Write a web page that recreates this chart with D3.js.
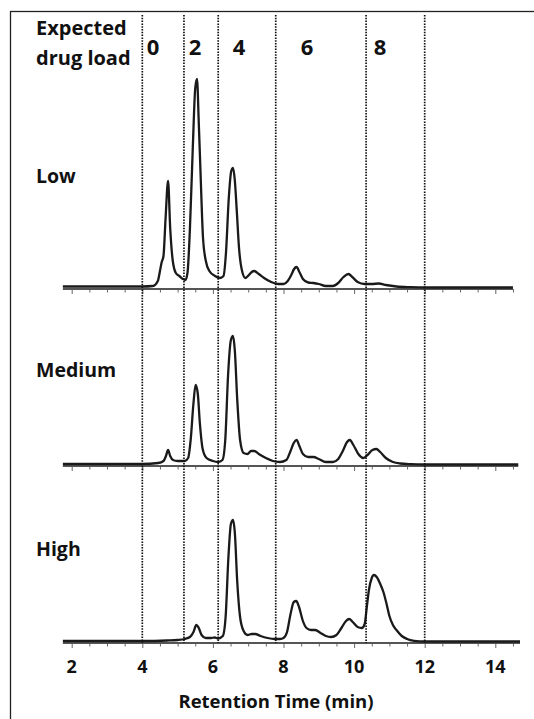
<!DOCTYPE html>
<html><head><meta charset="utf-8">
<script src="https://cdn.jsdelivr.net/npm/d3@7"></script>
<style>body{margin:0;background:#fff} svg{display:block}</style>
</head><body><svg id="c" width="534" height="719"></svg>
<script>
// ---------- data ----------
const panelNames = ["Low", "Medium", "High"];
const drugLoads = ["0", "2", "4", "6", "8"];
const boundaryTimes = [4.0, 5.18, 6.15, 7.78, 10.34, 12.0];
const xTickLabels = [2, 4, 6, 8, 10, 12, 14];

const lowTrace = [[1.75,1.5],[4.0,1.5],[4.3,2],[4.44,7],[4.5,17],[4.55,26],[4.6,32],[4.66,70],[4.73,107],[4.79,60],[4.86,28],[4.95,15],[5.05,12],[5.15,9],[5.22,8],[5.28,15],[5.35,60],[5.43,140],[5.5,200],[5.55,209],[5.6,165],[5.65,115],[5.72,50],[5.8,27],[5.9,17],[6.06,12],[6.2,10],[6.3,12],[6.37,35],[6.45,90],[6.52,117],[6.57,120],[6.62,108],[6.68,75],[6.74,40],[6.82,18],[6.92,10],[7.02,13],[7.1,16],[7.17,17],[7.3,14],[7.45,10],[7.65,6],[7.85,4],[8.0,4],[8.12,7],[8.22,13],[8.3,19],[8.37,21],[8.45,16],[8.55,9],[8.7,5.5],[8.85,5],[9.0,4],[9.2,2],[9.4,2],[9.55,5],[9.7,11],[9.84,14],[9.95,11],[10.1,6],[10.3,4],[10.5,4],[10.7,4.5],[10.9,3],[11.2,1.5],[11.6,0.8],[12.0,0.5],[14.5,0.5]];

const mediumTrace = [[1.75,1],[4.0,1],[4.45,2],[4.6,4],[4.67,9],[4.73,15],[4.79,9],[4.87,5],[5.0,4],[5.2,4],[5.3,7],[5.37,25],[5.45,62],[5.51,80],[5.57,72],[5.63,42],[5.71,16],[5.82,7],[6.0,4],[6.15,3],[6.27,5],[6.35,25],[6.43,90],[6.51,125],[6.57,129],[6.62,115],[6.69,65],[6.77,25],[6.87,12],[6.98,11],[7.08,14],[7.17,14],[7.3,11],[7.5,7],[7.7,4],[7.9,3],[8.08,5],[8.2,14],[8.29,22],[8.37,25],[8.45,19],[8.55,11],[8.7,8],[8.85,8],[9.0,6],[9.2,3],[9.4,3],[9.55,6],[9.68,14],[9.8,23],[9.88,25],[9.98,20],[10.12,11],[10.26,7],[10.38,10],[10.52,15],[10.63,16],[10.74,13],[10.9,7],[11.1,3],[11.3,1.5],[11.6,0.8],[12.0,0.5],[14.65,0.5]];

const highTrace = [[1.75,1],[4.0,1],[4.7,1.5],[5.0,2],[5.2,3],[5.35,5],[5.45,10],[5.53,17],[5.6,14],[5.68,7],[5.8,4],[5.95,4],[6.05,4.5],[6.15,3.5],[6.28,6],[6.36,25],[6.44,85],[6.51,118],[6.57,122],[6.62,110],[6.69,60],[6.77,25],[6.87,11],[6.98,7],[7.1,8],[7.2,8],[7.35,6],[7.55,4],[7.75,3],[7.9,3],[8.0,4],[8.1,10],[8.2,28],[8.29,40],[8.36,41],[8.44,35],[8.54,22],[8.65,14],[8.78,12],[8.9,12],[9.05,9],[9.2,6],[9.35,5],[9.5,7],[9.64,14],[9.77,21],[9.86,23],[9.96,20],[10.1,15],[10.22,14],[10.3,18],[10.36,35],[10.42,52],[10.5,64],[10.56,67],[10.64,65],[10.74,58],[10.83,50],[10.92,38],[11.0,26],[11.1,17],[11.2,12],[11.35,6],[11.5,3],[11.7,1.2],[12.0,0.5],[14.7,0.5]];

const traces = [lowTrace, mediumTrace, highTrace];
const axisEnds = [14.5, 14.65, 14.7];

// ---------- layout ----------
const svg = d3.select("#c");
const x = d3.scaleLinear().domain([2, 14]).range([71.7, 71.7 + 12 * 35.3]);
const baselines = [288, 465, 642];
const font = "'Open Sans', Lato, sans-serif";

// frame
svg.append("rect").attr("x", 10.5).attr("y", 11.5).attr("width", 530).attr("height", 720)
  .attr("fill", "none").attr("stroke", "#222").attr("stroke-width", 1.3);

// panels
panelNames.forEach((name, i) => {
  const base = baselines[i];
  const y = d3.scaleLinear().domain([0, 220]).range([base, base - 220]);
  const g = svg.append("g");
  const tv = d3.range(4, Math.floor(axisEnds[i] * 2) + 1).map(v => v / 2);
  const axis = d3.axisBottom(x).tickValues(tv).tickSize(3).tickFormat("").tickSizeOuter(0);
  const ag = g.append("g").attr("transform", `translate(0,${base + 1})`).call(axis);
  ag.select(".domain").remove();
  ag.selectAll(".tick line").attr("stroke", "#666").attr("stroke-width", 1)
    .attr("y2", d => d % 2 === 0 ? 5 : 3.5);
  g.append("line").attr("x1", x(1.75)).attr("x2", x(axisEnds[i]))
    .attr("y1", base + 1).attr("y2", base + 1).attr("stroke", "#555").attr("stroke-width", 2);
  const line = d3.line().x(d => x(d[0])).y(d => y(d[1])).curve(d3.curveMonotoneX);
  g.append("path").datum(traces[i]).attr("d", line)
    .attr("fill", "none").attr("stroke", "#1a1a1a").attr("stroke-width", 2.3).attr("stroke-linejoin", "round");
  svg.append("text").attr("x", 36).attr("y", [183, 377, 556][i]).text(name)
    .attr("font-family", font).attr("font-weight", "bold").attr("font-size", 19.5).attr("fill", "#111");
});

// bottom tick labels
svg.append("g").selectAll("text").data(xTickLabels).join("text")
  .attr("x", d => x(d)).attr("y", 673).attr("text-anchor", "middle").text(d => d)
  .attr("font-family", font).attr("font-weight", "bold").attr("font-size", 18).attr("fill", "#111");

svg.append("text").attr("x", 276).attr("y", 708).attr("text-anchor", "middle")
  .text("Retention Time (min)")
  .attr("font-family", font).attr("font-weight", "bold").attr("font-size", 18.5).attr("fill", "#111");

// dotted boundaries
svg.append("g").selectAll("line").data(boundaryTimes).join("line")
  .attr("x1", d => x(d)).attr("x2", d => x(d)).attr("y1", 15).attr("y2", 643)
  .attr("stroke", "#111").attr("stroke-width", 1.7).attr("stroke-dasharray", "1.5,1.3");

// header
svg.append("text").attr("x", 36).attr("y", 35).text("Expected")
  .attr("font-family", font).attr("font-weight", "bold").attr("font-size", 20).attr("fill", "#111");
svg.append("text").attr("x", 36).attr("y", 65).text("drug load")
  .attr("font-family", font).attr("font-weight", "bold").attr("font-size", 20).attr("fill", "#111");
const loadLabelX = [153, 195, 239, 307, 380];
svg.append("g").selectAll("text").data(drugLoads).join("text")
  .attr("x", (d, i) => loadLabelX[i]).attr("y", 55).attr("text-anchor", "middle").text(d => d)
  .attr("font-family", font).attr("font-weight", "bold").attr("font-size", 22).attr("fill", "#111");
</script></body></html>
